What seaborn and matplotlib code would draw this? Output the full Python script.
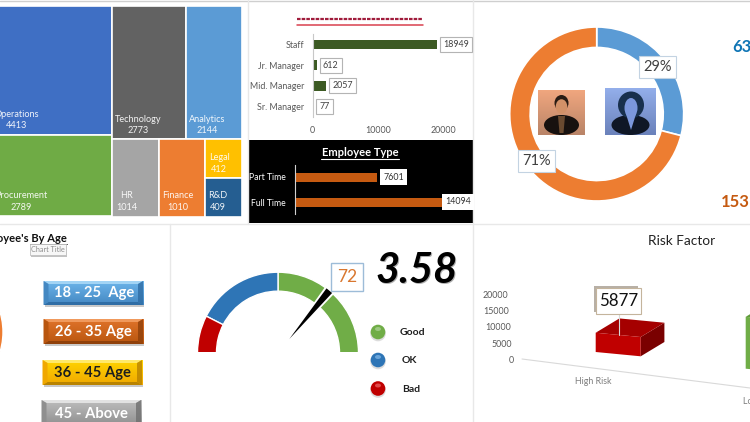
import numpy as np
import pandas as pd
import seaborn as sns
import matplotlib
matplotlib.use("Agg")
from matplotlib import pyplot as plt
from matplotlib.patches import Rectangle, Polygon, Ellipse, Circle

##################### Data #################################
dept_names = ["Operations", "Procurement", "Technology", "Analytics", "HR", "Finance", "Legal", "R&D"]
dept_values = [4413, 2789, 2773, 2144, 1014, 1010, 412, 409]
dept_colors = ["#3f6fc4", "#6fab45", "#626262", "#5b9bd5", "#a5a5a5", "#ed7d31", "#ffc000", "#255e91"]

level_names = ["Staff", "Jr. Manager", "Mid. Manager", "Sr. Manager"]
level_values = [18949, 612, 2057, 77]

type_names = ["Part Time", "Full Time"]
type_values = [7601, 14094]

gender_pct = [29, 71]
gender_totals = ["63", "153"]

age_buttons = ["18 - 25  Age", "26 - 35 Age", "36 - 45 Age", "45 - Above"]

gauge_segments = [50, 35, 15]
gauge_value = 72
gauge_score = "3.58"
gauge_legend = ["Good", "OK", "Bad"]

risk_names = ["High Risk", "Low Risk"]
risk_values = [5877, 15818]
risk_ticks = [0, 5000, 10000, 15000, 20000]

##################### Helpers #################################
W, H = 750, 422
sns.set_theme(style="white")
plt.rcParams["font.family"] = ["Lato", "DejaVu Sans"]

fig = plt.figure(figsize=(7.5, 4.22), dpi=100, facecolor="white")

def px_axes(x0, y0, x1, y1, z=2):
    ax = fig.add_axes([x0 / W, 1 - y1 / H, (x1 - x0) / W, (y1 - y0) / H], zorder=z)
    ax.patch.set_alpha(0)
    return ax

def gradient(ax, x0, y0, x1, y1, c_top, c_bottom, z=3):
    a = np.array(matplotlib.colors.to_rgb(c_top))
    b = np.array(matplotlib.colors.to_rgb(c_bottom))
    t = np.linspace(0, 1, 32)[:, None, None]
    ax.imshow(a * (1 - t) + b * t, extent=(x0, x1, y1, y0), aspect="auto", zorder=z)
    ax.set_xlim(0, W)
    ax.set_ylim(H, 0)

box_style = dict(boxstyle="square,pad=0.35", fc="white", ec="#b4b4b4", lw=0.8)

back = px_axes(0, 0, W, H, z=0)
back.set_xlim(0, W)
back.set_ylim(H, 0)
back.axis("off")
over = px_axes(0, 0, W, H, z=5)
over.set_xlim(0, W)
over.set_ylim(H, 0)
over.axis("off")

# panel lines
back.plot((0, 750), (0.8, 0.8), color="#cfcfcf", lw=1)
for xs, ys in [((0, 750), (224, 224)), ((169.5, 169.5), (224, 422)),
               ((473, 473), (0, 422)), ((247.5, 247.5), (0, 224))]:
    back.plot(xs, ys, color="#e8e8e8", lw=1)

##################### Treemap #################################
def draw_treemap():
    # laid out from the values: left column, then two rows on the right
    ax = px_axes(-8.6, 6, 242.5, 216.5)
    ax.set_xlim(0, 1)
    ax.set_ylim(1, 0)
    ax.axis("off")
    v = dept_values
    total = sum(v)
    left = (v[0] + v[1]) / total
    rects = [(0, 0, left, v[0] / (v[0] + v[1])),
             (0, v[0] / (v[0] + v[1]), left, v[1] / (v[0] + v[1]))]
    right = 1 - left
    top_sum, bot_sum = v[2] + v[3], v[4] + v[5] + v[6] + v[7]
    top_h = top_sum / (top_sum + bot_sum)
    rects.append((left, 0, right * v[2] / top_sum, top_h))
    rects.append((left + right * v[2] / top_sum, 0, right * v[3] / top_sum, top_h))
    x = left
    for val in v[4:6]:
        w = right * val / bot_sum
        rects.append((x, top_h, w, 1 - top_h))
        x += w
    w = right * (v[6] + v[7]) / bot_sum
    h6 = (1 - top_h) * v[6] / (v[6] + v[7])
    rects.append((x, top_h, w, h6))
    rects.append((x, top_h + h6, w, 1 - top_h - h6))
    for r, c in zip(rects, dept_colors):
        ax.add_patch(Rectangle((r[0], r[1]), r[2], r[3], fc=c, ec="white", lw=1.2))

draw_treemap()
tree_text_pos = [(17, 114.5), (21, 196), (138, 119), (207.5, 119), (126.5, 196), (178, 196), (219, 158), (218, 196)]
for name, val, (tx, ty) in zip(dept_names, dept_values, tree_text_pos):
    over.text(tx, ty, name, color="white", fontsize=6.6, ha="center", va="center", alpha=0.92)
    over.text(tx, ty + 11.5, str(val), color="white", fontsize=6.6, ha="center", va="center", alpha=0.92)

##################### Bars #################################
def style_bar_axes(ax, label_color, tick_size=6.4):
    sns.despine(ax=ax, top=True, right=True, bottom=True)
    ax.spines["left"].set_color(label_color)
    ax.spines["left"].set_linewidth(0.8)
    ax.set_xlabel("")
    ax.set_ylabel("")
    ax.tick_params(axis="y", length=0, pad=6, labelsize=tick_size, labelcolor=label_color)

ax = px_axes(312.7, 34, 470, 117)
df_level = pd.DataFrame({"level": level_names, "count": level_values})
sns.barplot(data=df_level, x="count", y="level", color="#3c5a23", saturation=1, width=0.45, linewidth=0, ax=ax)
ax.set_xlim(0, 24000)
style_bar_axes(ax, "#595959")
ax.spines["left"].set_color("#c8c8c8")
ax.set_xticks([0, 10000, 20000])
ax.tick_params(axis="x", length=0, pad=6.5, labelsize=6.4, labelcolor="#595959")
for i, val in enumerate(level_values):
    ax.annotate(str(val), (val, i), xytext=(4.5, 0), textcoords="offset points", va="center",
                fontsize=6.4, color="#404040", bbox=box_style, annotation_clip=False)

back.add_patch(Rectangle((248, 140), 225, 83, fc="black", ec="none"))
ax = px_axes(295.3, 164.5, 473, 214.5)
df_type = pd.DataFrame({"kind": type_names, "count": type_values})
sns.barplot(data=df_type, x="count", y="kind", color="#c55a11", saturation=1, width=0.36, linewidth=0, ax=ax)
ax.set_xlim(0, 16530)
style_bar_axes(ax, "white", tick_size=6.2)
ax.tick_params(axis="y", pad=7)
ax.spines["left"].set_color("#d0d0d0")
ax.set_xticks([])
for i, (val, off) in enumerate(zip(type_values, [4.5, -1])):
    ax.annotate(str(val), (val, i), xytext=(off, 0), textcoords="offset points", va="center",
                fontsize=6.4, color="#303030", annotation_clip=False,
                bbox=dict(boxstyle="square,pad=0.35", fc="white", ec="none"))

over.text(360, 152.5, "Employee Type", color="white", fontsize=8, fontweight="bold", ha="center", va="center")
over.plot([321, 399], [158.5, 158.5], color="white", lw=0.8)
over.plot([297, 423], [19.3, 19.3], color="#a01c3c", lw=1.6, ls=(0, (1.6, 0.5)))
over.plot([297, 423], [25.3, 25.3], color="#d8404e", lw=1.1)

##################### Gender donut #################################
ax = px_axes(509.7, 27, 683.7, 201)
ax.pie(gender_pct, colors=["#5b9bd5", "#ed7d31"], startangle=90, counterclock=False, radius=1,
       autopct="%d%%", pctdistance=0.88,
       wedgeprops=dict(width=0.235, edgecolor="white", linewidth=1.2),
       textprops=dict(fontsize=10.5, color="#404040", bbox=dict(boxstyle="square,pad=0.3", fc="white", ec="#c3d3e2", lw=0.8)))
ax.set_xlim(-1, 1)
ax.set_ylim(-1, 1)

over.text(732, 47, gender_totals[0], color="#0f75b5", fontsize=12, fontweight="bold", ha="left", va="center")
over.text(721, 202, gender_totals[1], color="#c55a11", fontsize=12, fontweight="bold", ha="left", va="center")

# people icons
gradient(over, 538, 91, 585, 135.5, "#f0a67e", "#b98468")
gradient(over, 605, 89, 656, 135.5, "#93aeea", "#6b82bb")
over.add_patch(Ellipse((561.5, 125), 35, 20, fc="#17110f", ec="none", zorder=4))
over.add_patch(Polygon([(558, 116), (565, 116), (563.5, 133), (559.5, 133)], fc="#6a4a30", ec="none", zorder=4))
over.add_patch(Ellipse((561.5, 103), 14, 16, fc="#2a1c14", ec="none", zorder=4))
over.add_patch(Ellipse((561.5, 106.5), 11.5, 14.5, fc="#d29168", ec="none", zorder=4))
over.add_patch(Ellipse((630.5, 125), 38, 20, fc="#0f1726", ec="none", zorder=4))
over.add_patch(Ellipse((631, 105), 26, 27, fc="#18304d", ec="none", zorder=4))
over.add_patch(Ellipse((631, 108), 13, 20, fc="#7b97dc", ec="none", zorder=4))
over.add_patch(Polygon([(626, 114), (636, 114), (631, 130)], fc="#7b97dc", ec="none", zorder=4))

##################### Age panel #################################
ax = px_axes(-133, 264, 3, 400)
ax.pie([1], colors=["#ed7d31"], radius=1)
ax.set_xlim(-1, 1)
ax.set_ylim(-1, 1)

over.text(67, 239, "Employee's By Age", color="#111111", fontsize=8, fontweight="bold", ha="right", va="center")
over.plot([30, 67], [243.5, 243.5], color="#111111", lw=0.6)
over.add_patch(Rectangle((31, 246), 36, 11, fc="#9a9a9a", ec="none", alpha=0.6, zorder=3))
over.add_patch(Rectangle((29.5, 244), 36, 11, fc="#f7f7f7", ec="#c0c0c0", lw=0.6, zorder=4))
over.text(47.5, 249.5, "Chart Title", color="#8c8c8c", fontsize=5.2, ha="center", va="center", zorder=5)

button_boxes = [(43.5, 281, 143, 305), (43.5, 319, 143, 344), (42.5, 360, 142, 385), (41.5, 400, 141, 426)]
button_cols = [("#6cb4ea", "#4488c2", "#a2d4f5", "#2f6da5"),
               ("#e0732a", "#b9560f", "#f0995c", "#8f400a"),
               ("#ffd400", "#f0a800", "#ffe96a", "#b98300"),
               ("#bdbdbd", "#8f8f8f", "#e2e2e2", "#6f6f6f")]
button_text = ["white", "white", "#1e1e1e", "white"]
for name, (x0, y0, x1, y1), (ct, cb, light, dark), tc in zip(age_buttons, button_boxes, button_cols, button_text):
    over.add_patch(Rectangle((x0 + 1, y0 + 2), x1 - x0, y1 - y0, fc="#888888", ec="none", alpha=0.45, zorder=2))
    gradient(over, x0, y0, x1, y1, ct, cb)
    b = 5
    over.add_patch(Polygon([(x0, y0), (x1, y0), (x1 - b, y0 + 3), (x0 + b, y0 + 3)], fc=light, ec="none", zorder=4))
    over.add_patch(Polygon([(x0, y1), (x1, y1), (x1 - b, y1 - 3), (x0 + b, y1 - 3)], fc=dark, ec="none", zorder=4))
    over.add_patch(Polygon([(x0, y0), (x0 + b, y0 + 3), (x0 + b, y1 - 3), (x0, y1)], fc=cb, ec="none", zorder=4))
    over.add_patch(Polygon([(x1, y0), (x1 - b, y0 + 3), (x1 - b, y1 - 3), (x1, y1)], fc=dark, ec="none", alpha=0.8, zorder=4))
    over.text((x0 + x1) / 2 + 0.5, (y0 + y1) / 2 + 0.5, name, color=tc, fontsize=10.6, fontweight="bold",
              ha="center", va="center", zorder=6)

##################### Gauge #################################
ax = px_axes(197.5, 272.2, 358.5, 433.2)
wedges, _ = ax.pie(gauge_segments + [sum(gauge_segments)], colors=["#70ad47", "#2e75b6", "#c00000", "white"],
                   startangle=0, counterclock=True, radius=1,
                   wedgeprops=dict(width=0.236, edgecolor="white", linewidth=1.0))
wedges[-1].set_visible(False)
ax.set_xlim(-1, 1)
ax.set_ylim(-1, 1)
ang = np.pi * (1 - gauge_value / sum(gauge_segments))
d = np.array([np.cos(ang), np.sin(ang)])
n = np.array([-d[1], d[0]])
ax.add_patch(Polygon([d * 0.72 + n * 0.05, d * 1.0 + n * 0.07, d * 1.0 - n * 0.07, d * 0.72 - n * 0.05], fc="white", ec="none", zorder=5))
ax.add_patch(Polygon([d * 0.22, d * 1.0 + n * 0.045, d * 1.0 - n * 0.045], fc="black", ec="none", zorder=6))
over.text(347, 277, str(gauge_value), color="#d9772f", fontsize=12.5, ha="center", va="center",
          bbox=dict(boxstyle="square,pad=0.35", fc="white", ec="#9dbcd8", lw=1))

over.text(417.5, 272.5, gauge_score, color="#b0b0b0", fontsize=30, fontweight="bold", style="italic", ha="center", va="center")
over.text(416.5, 271, gauge_score, color="black", fontsize=30, fontweight="bold", style="italic", ha="center", va="center")

sphere_y = [332, 360, 388.5]
sphere_cols = [("#70ad47", "#9cc981"), ("#2e75b6", "#6aa5da"), ("#c00000", "#e04a4a")]
legend_x = [412, 409.5, 411]
for name, sy, (c, h), lx in zip(gauge_legend, sphere_y, sphere_cols, legend_x):
    over.add_patch(Circle((378, sy + 1.5), 7.8, fc="#bbbbbb", ec="none", alpha=0.5, zorder=2))
    over.add_patch(Circle((378, sy), 7.3, fc=c, ec="none", zorder=3))
    over.add_patch(Ellipse((378, sy - 3), 6, 4, fc=h, ec="none", zorder=4))
    over.text(lx, sy + 0.5, name, color="#1e1e1e", fontsize=7.5, fontweight="bold", ha="center", va="center")

##################### Risk factor #################################
over.text(681.7, 241, "Risk Factor", color="#222222", fontsize=9.8, ha="center", va="center")
scale = 65.6 / 20000
for t in risk_ticks:
    over.text(514 - t * 0.0003, 360.6 - t * scale, str(t), color="#595959", fontsize=6.4, ha="right", va="center")
over.plot([522, 750], [359, 388], color="#d9d9d9", lw=0.8)
risk_faces = [("#c00000", "#a50000", "#7a0000"), ("#70ad47", "#5f9a3a", "#4c7d2e")]
for i, val in enumerate(risk_values):
    x0, y0 = 595.7 + 150 * i, 352 + 16.7 * i
    x1, y1 = x0 + 45, y0 + 4.3
    dx, dy = 23.7, -14.3
    h = val * scale
    front, top, side = risk_faces[i]
    over.add_patch(Polygon([(x1, y1), (x1 + dx, y1 + dy), (x1 + dx, y1 + dy - h), (x1, y1 - h)], fc=side, ec="none", zorder=3))
    over.add_patch(Polygon([(x0, y0 - h), (x1, y1 - h), (x1 + dx, y1 + dy - h), (x0 + dx, y0 + dy - h)], fc=top, ec="none", zorder=3))
    over.add_patch(Polygon([(x0, y0), (x1, y1), (x1, y1 - h), (x0, y0 - h)], fc=front, ec="none", zorder=3))

over.text(593.7, 382, risk_names[0], color="#7f7f7f", fontsize=6.4, ha="center", va="center")
over.text(743, 402, risk_names[1], color="#7f7f7f", fontsize=6.4, ha="left", va="center")

over.plot([618.5, 618.5], [314, 335], color="#d8d8d8", lw=0.8, zorder=4)
over.add_patch(Rectangle((593.5, 285.5), 44, 26, fc="#9a8f80", ec="none", alpha=0.7, zorder=4))
over.add_patch(Rectangle((596, 288), 44.7, 26.3, fc="white", ec="#c4b49c", lw=0.8, zorder=5))
over.text(618.3, 301, str(risk_values[0]), color="#111111", fontsize=12.2, ha="center", va="center", zorder=6)

fig.savefig("out.png", dpi=100)
